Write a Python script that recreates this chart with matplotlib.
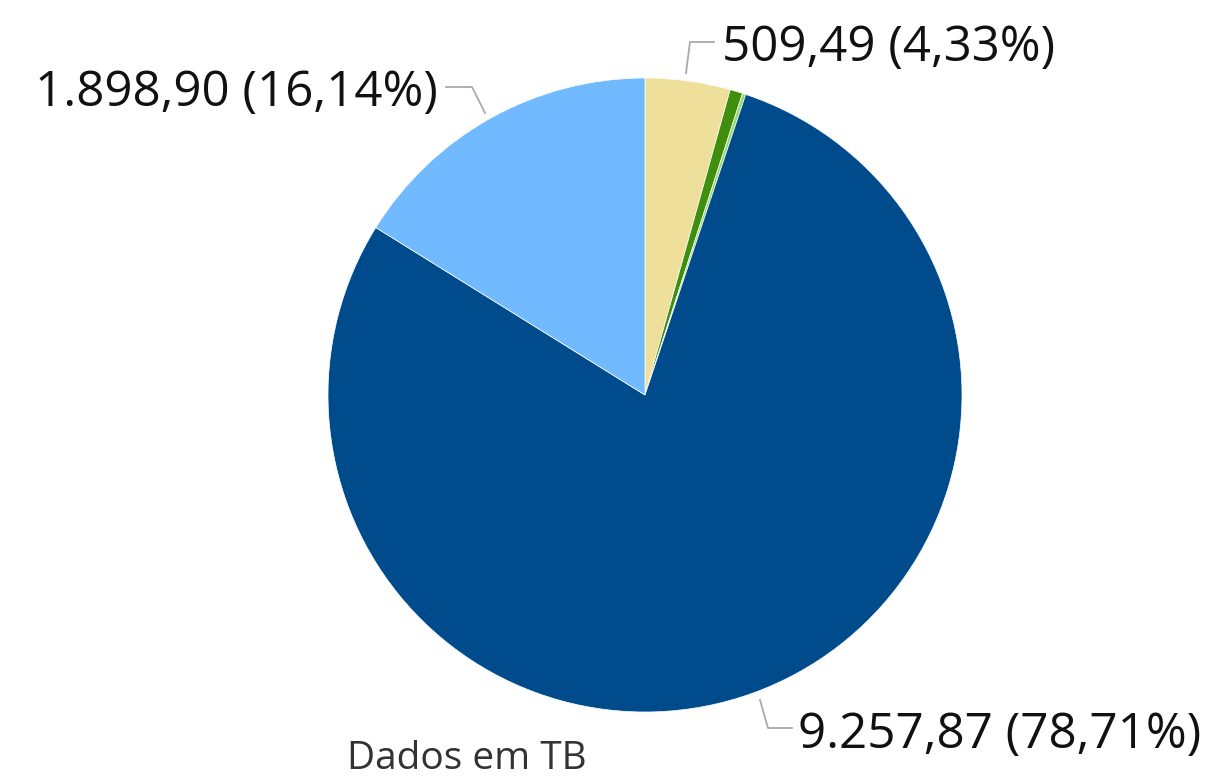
import matplotlib
matplotlib.use("Agg")
from matplotlib import pyplot as plt

# storage per category, in TB (clockwise from 12 o'clock)
categories = ["Cat A", "Cat B", "Cat C", "Cat D", "Cat E"]
values = [509.49, 76.0, 19.9, 9257.87, 1898.90]
colours = ["#EEDF9A", "#3F8E0E", "#93DA6A", "#004B8C", "#72BAFF"]
labelled = [True, False, False, True, True]
note = "Dados em TB"

plt.rcParams["font.family"] = ["Open Sans", "DejaVu Sans"]

W, H = 1215, 782
cx, cy, r = 645, 395, 317

fig = plt.figure(figsize=(W / 100, H / 100), dpi=100)
ax = fig.add_axes([0, 0, 1, 1])
ax.pie(values, colors=colours, startangle=90, counterclock=False, radius=1,
       wedgeprops=dict(linewidth=0.5, edgecolor="white"))
ax.set_xlim(-cx / r, (W - cx) / r)
ax.set_ylim(-(H - cy) / r, cy / r)
ax.set_aspect("equal", adjustable="box")
ax.axis("off")


def px(x, y):
    # pixel coords (from top-left) -> data coords
    return ((x - cx) / r, (cy - y) / r)


def fmt_br(v):
    s = f"{v:,.2f}"
    return s.replace(",", "X").replace(".", ",").replace("X", ".")


total = sum(values)
texts = [f"{fmt_br(v)} ({fmt_br(v / total * 100)}%)" for v in values]

# label placement: (leader points in px, text anchor px, ha)
placements = {
    0: ([(686, 73), (690, 42), (714, 42)], (722, 48), "left"),
    3: ([(760, 700), (768, 728), (792, 728)], (798, 735), "left"),
    4: ([(485, 113), (472, 87), (446, 87)], (438, 93), "right"),
}

for i, (pts, (tx, ty), ha) in placements.items():
    if not labelled[i]:
        continue
    xs, ys = zip(*[px(x, y) for x, y in pts])
    ax.plot(xs, ys, color="#AAAAAA", linewidth=1.3, clip_on=False)
    x, y = px(tx, ty)
    ax.text(x, y, texts[i], ha=ha, va="center", fontsize=35.5, color="#111111")

x, y = px(467, 759)
ax.text(x, y, note, ha="center", va="center", fontsize=28, color="#333333")

plt.savefig("out.png", dpi=100)
